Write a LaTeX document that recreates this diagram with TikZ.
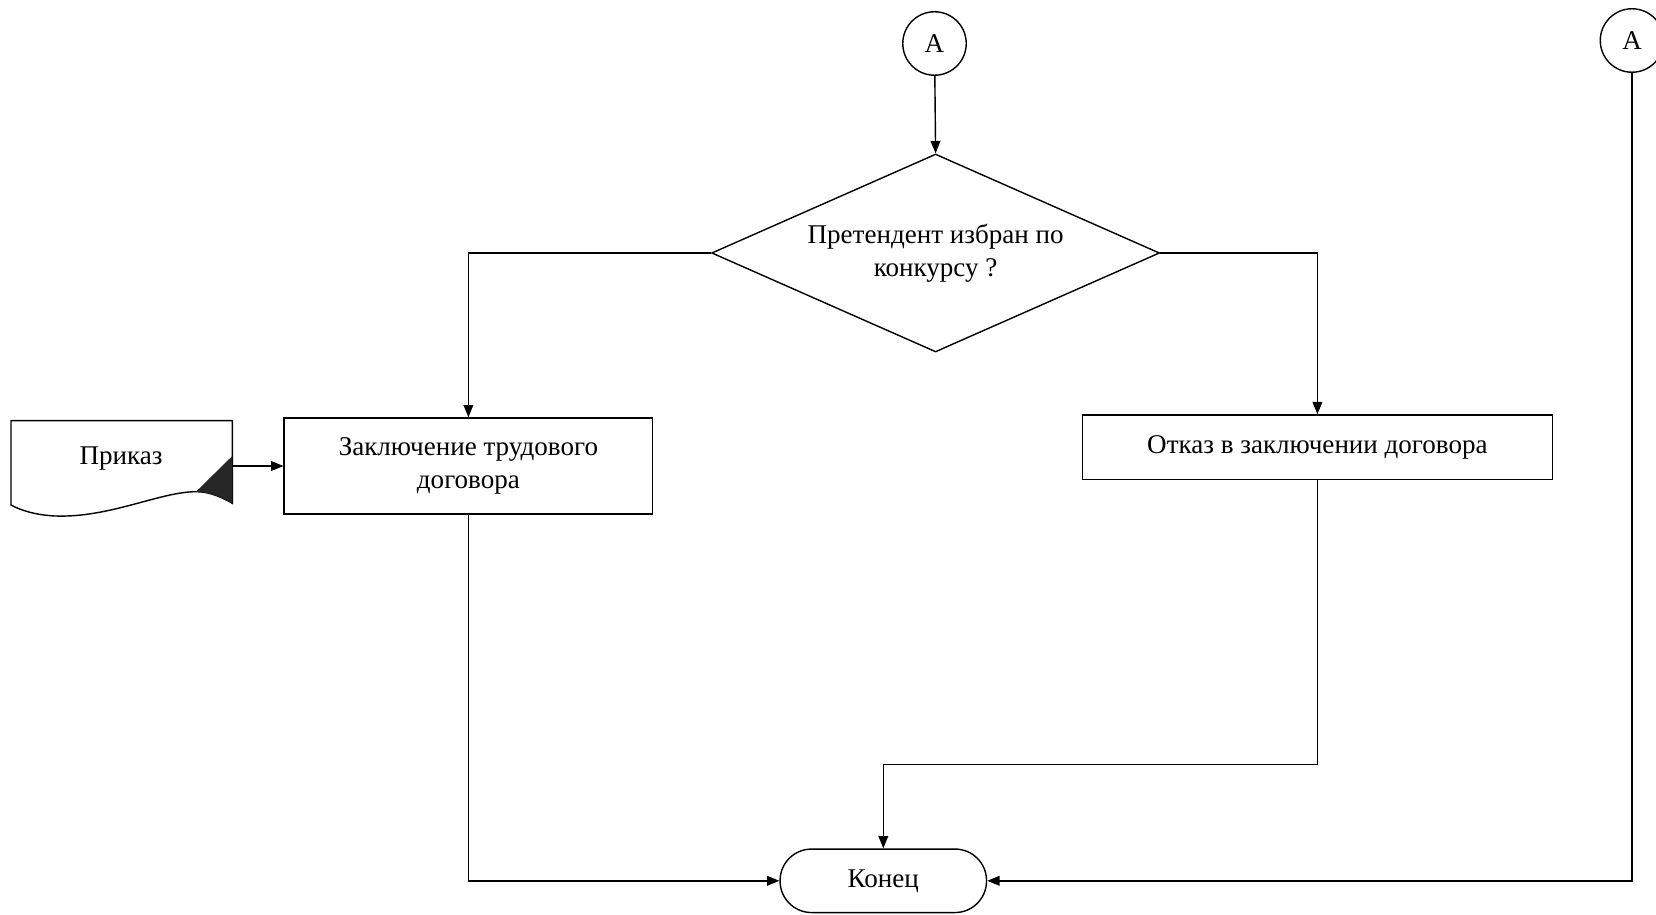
\documentclass[tikz,border=0pt]{standalone}
\usepackage{fontspec}
\setmainfont{Liberation Serif}
\usetikzlibrary{shapes.geometric,arrows.meta}

\begin{document}
\begin{tikzpicture}[x=0.02cm,y=-0.02cm,
    font=\fontsize{15.4}{18.5}\selectfont,
    every path/.style={line width=0.8pt},
    link/.style={circle,draw,minimum size=1.27cm,inner sep=0pt},
    ask/.style={diamond,draw,aspect=2.26,minimum width=8.96cm,minimum height=3.96cm,inner sep=0pt,align=center},
    act/.style={rectangle,draw,align=center,inner sep=0pt},
    term/.style={rectangle,draw,rounded corners=0.63cm,minimum width=4.13cm,minimum height=1.27cm},
    arr/.style={-{Triangle[length=7pt,width=5.5pt]}}]
    \useasboundingbox (0,0) rectangle (1656,915);
    % connectors A
    \node[link] (a1) at (934.5,43.5) {A};
    \node[link] (a2) at (1632,40.5) {A};
    % decision
    \node[ask] (dec) at (935.6,253) {Претендент избран по\\конкурсу ?};
    % actions
    \node[act,minimum width=7.37cm,minimum height=1.92cm] (zakl) at (468.4,466) {Заключение трудового\\договора};
    \node[act,minimum width=9.4cm,minimum height=1.29cm] (otkaz) at (1317.4,447.2) {Отказ в заключении договора};
    \node[term] (konec) at (883.3,880.8) {Конец};
    % document
    \draw (11,420.7) -- (232.3,420.7) -- (232.3,503.3)
        .. controls (218,495) and (207,491.7) .. (196,491.7)
        .. controls (160,491.7) and (110,518) .. (55,516)
        .. controls (35,515) and (20,510) .. (11,505) -- cycle;
    \fill[black!85] (232.3,456) -- (196,491.7)
        .. controls (207,491.7) and (218,495) .. (232.3,503.3) -- cycle;
    \node (prikaz) at (121,459) {Приказ};
    \coordinate (prikaz-out) at (232.3,466);
    \coordinate (merge) at (883.3,764.5);
    % lines
    \draw[arr] (a1) -- (dec.north);
    \draw[arr] (dec.west) -| (zakl.north);
    \draw[arr] (dec.east) -| (otkaz.north);
    \draw[arr] (prikaz-out) -- (zakl.west);
    \draw[arr] (zakl.south) |- (konec.west);
    \draw[arr] (otkaz.south) |- (merge) -- (konec.north);
    \draw[arr] (a2) |- (konec.east);
\end{tikzpicture}
\end{document}
